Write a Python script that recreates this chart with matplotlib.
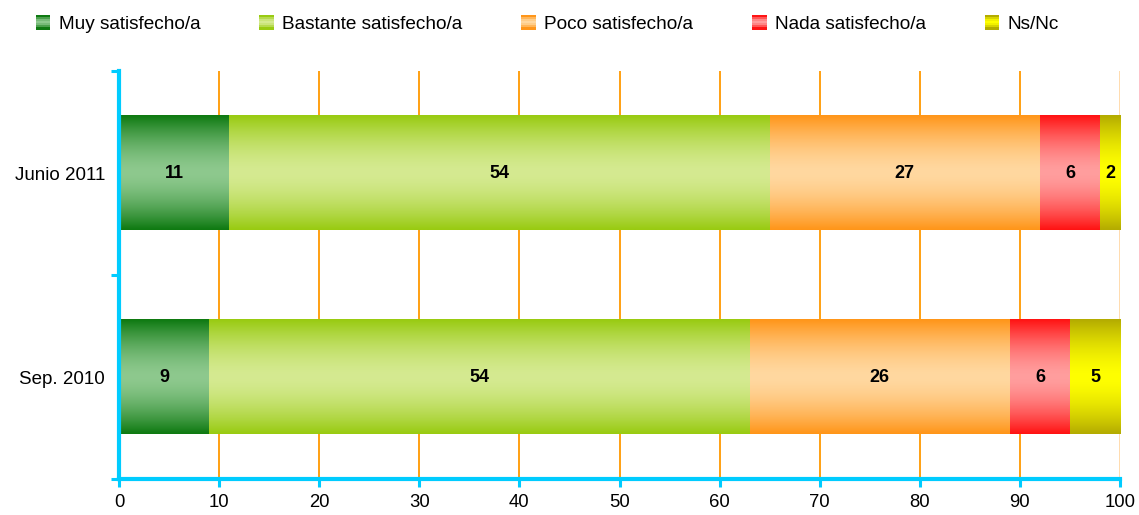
import numpy as np
import matplotlib
matplotlib.use("Agg")
import matplotlib.pyplot as plt
from matplotlib.colors import to_rgb
from matplotlib.patches import Rectangle
from matplotlib.legend_handler import HandlerBase

plt.rcParams["font.family"] = ["Liberation Sans", "DejaVu Sans"]

periods = ["Sep. 2010", "Junio 2011"]
categories = ["Muy satisfecho/a", "Bastante satisfecho/a", "Poco satisfecho/a",
              "Nada satisfecho/a", "Ns/Nc"]
values = {
    "Muy satisfecho/a": [9, 11],
    "Bastante satisfecho/a": [54, 54],
    "Poco satisfecho/a": [26, 27],
    "Nada satisfecho/a": [6, 6],
    "Ns/Nc": [5, 2],
}
# (edge colour, centre colour) of each vertical gradient
shades = {
    "Muy satisfecho/a": ("#0f7a12", "#8ec98e"),
    "Bastante satisfecho/a": ("#99cb12", "#d5ea91"),
    "Poco satisfecho/a": ("#ff961a", "#ffd8a0"),
    "Nada satisfecho/a": ("#ff1414", "#ff9e9e"),
    "Ns/Nc": ("#b4ac00", "#ffff00"),
}
xticks = list(range(0, 101, 10))

axis_col = "#00ccff"
grid_col = "#ff9900"
bar_h = 0.56


def gradient(edge, centre, n=64):
    t = np.abs(np.linspace(-1, 1, n)) ** 1.6
    e, c = np.array(to_rgb(edge)), np.array(to_rgb(centre))
    return (c[None, :] + (e - c)[None, :] * t[:, None])[:, None, :]


class StripeHandler(HandlerBase):
    def __init__(self, edge, centre):
        super().__init__()
        self.edge, self.centre = edge, centre

    def create_artists(self, legend, orig, xd, yd, w, h, fontsize, trans):
        side = h * 1.1
        x0 = xd + (w - side) / 2
        y0 = yd + (h - side) / 2
        cols = gradient(self.edge, self.centre, 7)[:, 0, :]
        arts = []
        for i, col in enumerate(cols):
            r = Rectangle((x0, y0 + side - (i + 1) * side / 7), side, side / 7,
                          facecolor=col, edgecolor="none", transform=trans)
            arts.append(r)
        return arts


fig = plt.figure(figsize=(11.39, 5.15), dpi=100)
ax = fig.add_axes([0.1045, 0.0699, 0.8788, 0.7922])

ypos = np.arange(len(periods))
left = np.zeros(len(periods))
handles = []
for cat in categories:
    vals = np.array(values[cat], dtype=float)
    edge, centre = shades[cat]
    img = gradient(edge, centre)
    for y, l, v in zip(ypos, left, vals):
        ax.imshow(img, extent=(l, l + v, y - bar_h / 2, y + bar_h / 2),
                  aspect="auto", interpolation="bilinear", zorder=2)
        ax.text(l + v / 2, y, f"{v:g}", ha="center", va="center",
                fontsize=13, fontweight="bold", zorder=3)
    left += vals
    handles.append(Rectangle((0, 0), 1, 1, facecolor=edge))

ax.set_xlim(0, 100)
ax.set_ylim(-0.5, len(periods) - 0.5)
ax.set_xticks(xticks)
ax.set_yticks(ypos)
ax.set_yticklabels(periods)
ax.set_yticks([-0.5, 0.5, 1.5], minor=True)
ax.tick_params(axis="y", which="major", length=0, pad=10, labelsize=13.5)
ax.tick_params(axis="y", which="minor", length=6, width=2.2, color=axis_col)
ax.tick_params(axis="x", length=6, width=2.2, color=axis_col, labelsize=13.3, pad=5)
ax.xaxis.grid(True, color=grid_col, linewidth=1.3, zorder=0)
ax.get_xgridlines()[-1].set_color("#ffd9a8")
ax.set_axisbelow(True)
for side in ("top", "right"):
    ax.spines[side].set_visible(False)
for side in ("left", "bottom"):
    ax.spines[side].set_color(axis_col)
    ax.spines[side].set_linewidth(3)

handler_map = {h: StripeHandler(*shades[c]) for h, c in zip(handles, categories)}
fig.legend(handles, categories, handler_map=handler_map, loc="center",
           bbox_to_anchor=(0.4807, 0.953), ncol=5, frameon=False, fontsize=13.7,
           handlelength=0.75, handletextpad=0.45, columnspacing=3.1)

fig.savefig("out.png", dpi=100)
